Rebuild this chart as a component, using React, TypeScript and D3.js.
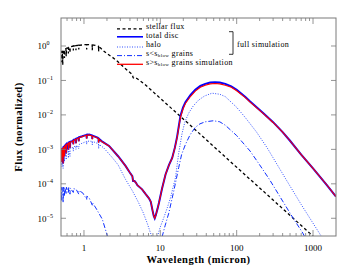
import React from "react";
import * as d3 from "d3";

const WIDTH = 354;
const HEIGHT = 275;
const PLOT = { left: 61, right: 336, top: 18, bottom: 236 };

// wavelength in micron, flux given as log10 of the normalized flux
const stellarWave = [
  0.5, 0.505, 0.51, 0.515, 0.52, 0.527, 0.533, 0.54, 0.55, 0.555, 0.56, 0.57, 0.58, 0.585, 0.59, 0.6,
  0.62, 0.625, 0.63, 0.65, 0.656, 0.66, 0.7, 0.72, 0.725, 0.73, 0.78, 0.785, 0.79, 0.85, 0.855, 0.86,
  0.95, 1.0, 1.08, 1.085, 1.09, 1.2, 1.28, 1.285, 1.29, 1.4, 1.5, 1.55, 1.555, 1.56, 1.65, 1.8, 2.0,
  2.3, 2.6, 3.0, 3.5, 4.0, 4.3, 4.4, 4.6, 4.8, 5.0, 6.4, 10, 30, 100, 300, 1000, 1300,
];
const stellarLogFlux = [
  -0.2, -0.15, -0.47, -0.16, -0.14, -0.55, -0.13, -0.12, -0.11, -0.35, -0.1, -0.09, -0.08, -0.3, -0.07, -0.06,
  -0.05, -0.22, -0.04, -0.03, -0.2, -0.03, -0.01, 0.0, -0.13, 0.0, 0.01, -0.12, 0.01, 0.02, -0.1, 0.02,
  0.03, 0.04, 0.04, -0.1, 0.04, 0.04, 0.03, -0.12, 0.03, 0.02, 0.0, -0.01, -0.15, -0.02, -0.06, -0.14, -0.22,
  -0.31, -0.4, -0.52, -0.66, -0.77, -0.83, -0.92, -0.95, -0.93, -0.95, -1.13, -1.52, -2.47, -3.52, -4.47, -5.52, -5.75,
];

const discWave = [
  0.5, 0.505, 0.51, 0.515, 0.52, 0.527, 0.533, 0.54, 0.55, 0.555, 0.56, 0.57, 0.58, 0.585, 0.59, 0.6,
  0.62, 0.625, 0.63, 0.65, 0.656, 0.66, 0.7, 0.72, 0.725, 0.73, 0.78, 0.785, 0.79, 0.85, 0.855, 0.86,
  0.95, 1.0, 1.08, 1.085, 1.09, 1.17, 1.28, 1.285, 1.29, 1.4, 1.5, 1.55, 1.555, 1.56, 1.7, 2.13, 2.8,
  3.5, 4.0, 4.3, 4.4, 4.6, 4.8, 5.0, 5.77, 6.43, 7.1, 7.5, 7.9, 8.2, 8.45, 8.7, 9.2, 9.6, 10.5, 11.7,
  13, 14.3, 15.5, 16.6, 17.5, 18.4, 19.8, 21.3, 24.9, 28.7, 33.4, 38.8, 45, 52, 60, 71, 85, 100, 130,
  150, 220, 300, 400, 500, 700, 1000, 1500, 2000,
];
const totalDiscLogFlux = [
  -3.05, -2.97, -3.35, -2.96, -3.2, -2.95, -3.4, -2.93, -2.92, -3.2, -2.9, -2.88, -2.86, -3.1, -2.85, -2.84,
  -2.82, -3.0, -2.8, -2.79, -2.95, -2.78, -2.76, -2.74, -2.85, -2.73, -2.7, -2.82, -2.69, -2.66, -2.76, -2.65,
  -2.62, -2.6, -2.58, -2.68, -2.58, -2.57, -2.6, -2.7, -2.6, -2.63, -2.66, -2.68, -2.8, -2.69, -2.76, -2.9, -3.2,
  -3.48, -3.68, -3.78, -3.92, -3.92, -3.97, -4.04, -4.16, -4.3, -4.42, -4.52, -4.77, -4.93, -5.0, -4.92, -4.72, -4.55, -4.15, -3.73,
  -3.45, -3.25, -2.95, -2.63, -2.31, -2.02, -1.79, -1.63, -1.42, -1.27, -1.16, -1.1, -1.06, -1.05, -1.06, -1.1, -1.17, -1.27, -1.48,
  -1.61, -1.94, -2.21, -2.5, -2.75, -3.15, -3.55, -4.02, -4.37,
];
const bigGrainLogFlux = [
  -3.06, -2.98, -3.36, -2.97, -3.21, -2.96, -3.41, -2.94, -2.93, -3.21, -2.91, -2.89, -2.87, -3.11, -2.86, -2.85,
  -2.83, -3.01, -2.81, -2.8, -2.96, -2.79, -2.77, -2.75, -2.86, -2.74, -2.71, -2.83, -2.7, -2.67, -2.77, -2.66,
  -2.63, -2.61, -2.59, -2.69, -2.59, -2.58, -2.61, -2.71, -2.61, -2.64, -2.67, -2.69, -2.81, -2.7, -2.77, -2.9, -3.2,
  -3.48, -3.68, -3.78, -3.92, -3.92, -3.97, -4.04, -4.16, -4.3, -4.42, -4.52, -4.77, -4.93, -5.0, -4.92, -4.72, -4.55, -4.15, -3.73,
  -3.45, -3.25, -2.96, -2.65, -2.34, -2.06, -1.83, -1.67, -1.46, -1.31, -1.2, -1.14, -1.1, -1.09, -1.1, -1.14, -1.2, -1.3, -1.5,
  -1.63, -1.95, -2.22, -2.5, -2.75, -3.15, -3.55, -4.02, -4.37,
];

const haloWave = [
  0.5, 0.51, 0.515, 0.52, 0.533, 0.54, 0.555, 0.56, 0.58, 0.585, 0.59, 0.62, 0.625, 0.63, 0.656, 0.66,
  0.72, 0.725, 0.73, 0.78, 0.785, 0.8, 0.855, 0.86, 1.08, 1.085, 1.09, 1.17, 1.28, 1.285, 1.3, 1.55, 1.555,
  1.58, 1.8, 2.35, 2.8, 3.5, 4.3, 5.2, 6.0, 6.7, 7.8, 8.5, 9.1, 10, 11.2, 12.4, 13.6, 15.8, 17.4, 19.3, 21,
  23.5, 27, 31.7, 38, 47.4, 60, 71, 100, 130, 181, 250, 445, 700, 1200, 1400,
];
const haloLogFlux = [
  -3.18, -3.15, -3.5, -3.13, -3.55, -3.1, -3.35, -3.07, -3.05, -3.3, -3.04, -3.0, -3.25, -2.99, -3.2, -2.97,
  -2.94, -3.05, -2.93, -2.9, -3.0, -2.88, -2.98, -2.86, -2.77, -2.85, -2.77, -2.76, -2.77, -2.87, -2.77, -2.84, -2.98,
  -2.86, -2.95, -3.24, -3.45, -3.87, -4.2, -4.55, -4.85, -5.13, -5.56, -5.9, -5.55, -5.25, -4.96, -4.68, -4.4, -3.82, -3.11, -2.53, -2.2,
  -1.95, -1.74, -1.57, -1.45, -1.37, -1.4, -1.47, -1.78, -2.08, -2.49, -2.95, -3.88, -4.6, -5.42, -5.65,
];

const smallWave = [
  0.5, 0.505, 0.51, 0.515, 0.527, 0.533, 0.54, 0.555, 0.56, 0.585, 0.59, 0.625, 0.63, 0.656, 0.66, 0.725,
  0.73, 0.79, 0.855, 0.86, 0.96, 1.085, 1.09, 1.17, 1.285, 1.29, 1.43, 1.74, 2.03, 2.3, 5, 10.6, 11.6,
  12.9, 15, 17.4, 19, 21.3, 24.5, 28.7, 33, 38.8, 49.6, 60, 71, 100, 150, 200, 270, 400, 550, 735, 850,
];
const smallLogFlux = [
  -4.15, -4.1, -4.5, -4.1, -4.1, -4.55, -4.1, -4.35, -4.1, -4.3, -4.1, -4.28, -4.11, -4.3, -4.12, -4.25,
  -4.14, -4.16, -4.3, -4.2, -4.26, -4.45, -4.36, -4.41, -4.62, -4.55, -4.7, -5.03, -5.52, -5.9, -7.5, -5.52, -5.2,
  -4.85, -4.21, -3.53, -3.15, -2.86, -2.58, -2.36, -2.26, -2.2, -2.17, -2.2, -2.3, -2.6, -3.05, -3.45, -3.88, -4.5, -5.0, -5.43, -5.7,
];

const xTickValues = [1, 10, 100, 1000];
const yTickExponents = [0, -1, -2, -3, -4, -5];

const x = d3.scaleLog().domain([0.5, 2000]).range([PLOT.left, PLOT.right]);
const y = d3.scaleLog().domain([3.06e-6, 6.49]).range([PLOT.bottom, PLOT.top]);

const line = d3
  .line<[number, number]>()
  .x((d) => x(d[0]))
  .y((d) => y(Math.pow(10, d[1])));

const pairs = (w: number[], f: number[]) => w.map((v, i) => [v, f[i]] as [number, number]);

const minorX: number[] = [];
[0.1, 1, 10, 100, 1000].forEach((dec) => {
  for (let k = 2; k <= 9; k++) {
    const v = dec * k;
    if (v > 0.5 && v < 2000) minorX.push(v);
  }
});

const FONT = "'Liberation Serif', 'Times New Roman', serif";
const AXIS = "#7a7a7a";
const BLUE = "#0000ff";

const legend = [
  { label: "stellar flux", stroke: "#000", width: 1.3, dash: "3 2.5", ty: 28.8, ly: 28.8 },
  { label: "total disc", stroke: BLUE, width: 1.6, dash: undefined, ty: 37.8, ly: 36.8 },
  { label: "halo", stroke: "#3050ff", width: 1, dash: "1 1.5", ty: 46.5, ly: 47 },
  { label: "s<s", sub: "blow", rest: " grains", stroke: "#1030ff", width: 1, dash: "5 2 1 2", ty: 55.5, ly: 55.6 },
  { label: "s>s", sub: "blow", rest: " grains simulation", stroke: "#ff0000", width: 1.3, dash: undefined, ty: 64.8, ly: 64.3 },
];

export default function App() {
  return (
    <svg
      width={WIDTH}
      height={HEIGHT}
      style={{ position: "absolute", left: 0, top: 0, background: "#fff" }}
      fontFamily={FONT}
    >
      <defs>
        <clipPath id="plot-clip">
          <rect x={PLOT.left} y={PLOT.top} width={PLOT.right - PLOT.left} height={PLOT.bottom - PLOT.top} />
        </clipPath>
      </defs>

      <g clipPath="url(#plot-clip)" fill="none">
        <path d={line(pairs(stellarWave, stellarLogFlux)) ?? ""} stroke="#000" strokeWidth={1.3} strokeDasharray="3 2.5" />
        <path d={line(pairs(haloWave, haloLogFlux)) ?? ""} stroke="#3050ff" strokeWidth={1} strokeDasharray="1 1.5" />
        <path d={line(pairs(smallWave, smallLogFlux)) ?? ""} stroke="#1030ff" strokeWidth={1} strokeDasharray="5 2 1 2" />
        <path d={line(pairs(discWave, totalDiscLogFlux)) ?? ""} stroke={BLUE} strokeWidth={2} />
        <path d={line(pairs(discWave, bigGrainLogFlux)) ?? ""} stroke="#ff0000" strokeWidth={1.1} />
      </g>

      {/* frame */}
      <rect
        x={PLOT.left}
        y={PLOT.top}
        width={PLOT.right - PLOT.left}
        height={PLOT.bottom - PLOT.top}
        fill="none"
        stroke={AXIS}
        strokeWidth={1}
      />

      {/* x ticks, bottom and top; y ticks left and right */}
      <g stroke={AXIS} strokeWidth={0.8}>
        {xTickValues.map((v) => (
          <g key={"xt" + v}>
            <line x1={x(v)} x2={x(v)} y1={PLOT.bottom} y2={PLOT.bottom - 6} />
            <line x1={x(v)} x2={x(v)} y1={PLOT.top} y2={PLOT.top + 6} />
          </g>
        ))}
        {minorX.map((v) => (
          <g key={"xm" + v}>
            <line x1={x(v)} x2={x(v)} y1={PLOT.bottom} y2={PLOT.bottom - 3} />
            <line x1={x(v)} x2={x(v)} y1={PLOT.top} y2={PLOT.top + 3} />
          </g>
        ))}
        {yTickExponents.map((e) => (
          <g key={"yt" + e}>
            <line x1={PLOT.left} x2={PLOT.left + 5} y1={y(Math.pow(10, e))} y2={y(Math.pow(10, e))} />
            <line x1={PLOT.right} x2={PLOT.right - 5} y1={y(Math.pow(10, e))} y2={y(Math.pow(10, e))} />
          </g>
        ))}
      </g>

      {/* tick labels */}
      <g fontSize={9} fill="#000">
        {xTickValues.map((v) => (
          <text key={"xl" + v} x={x(v)} y={251} textAnchor="middle">
            {v}
          </text>
        ))}
        {yTickExponents.map((e) => (
          <text key={"yl" + e} x={37.5} y={y(Math.pow(10, e)) + 3.3}>
            10
            <tspan fontSize={6} dy={-4}>
              {e === 0 ? "0" : "\u2212" + Math.abs(e)}
            </tspan>
          </text>
        ))}
      </g>

      {/* axis titles */}
      <text x={(PLOT.left + PLOT.right) / 2} y={263} textAnchor="middle" fontSize={10.5} fontWeight="bold" letterSpacing={0.5}>
        Wavelength (micron)
      </text>
      <text
        transform={`translate(22,${(PLOT.top + PLOT.bottom) / 2}) rotate(-90)`}
        textAnchor="middle"
        fontSize={10.5}
        fontWeight="bold"
        letterSpacing={0.5}
      >
        Flux (normalized)
      </text>

      {/* legend */}
      <g fontSize={8}>
        {legend.map((d) => (
          <g key={d.label + (d.rest ?? "")}>
            <line x1={117} x2={143} y1={d.ly} y2={d.ly} stroke={d.stroke} strokeWidth={d.width} strokeDasharray={d.dash} />
            <text x={146} y={d.ty} letterSpacing={0.35}>
              {d.label}
              {d.sub ? (
                <>
                  <tspan fontSize={5} dy={1.5}>
                    {d.sub}
                  </tspan>
                  <tspan dy={-1.5}>{d.rest}</tspan>
                </>
              ) : null}
            </text>
          </g>
        ))}
        <path d="M229,31.7 H233 V54.3 H229" fill="none" stroke="#000" strokeWidth={0.8} />
        <text x={237} y={46.5} letterSpacing={0.35}>
          full simulation
        </text>
      </g>
    </svg>
  );
}
